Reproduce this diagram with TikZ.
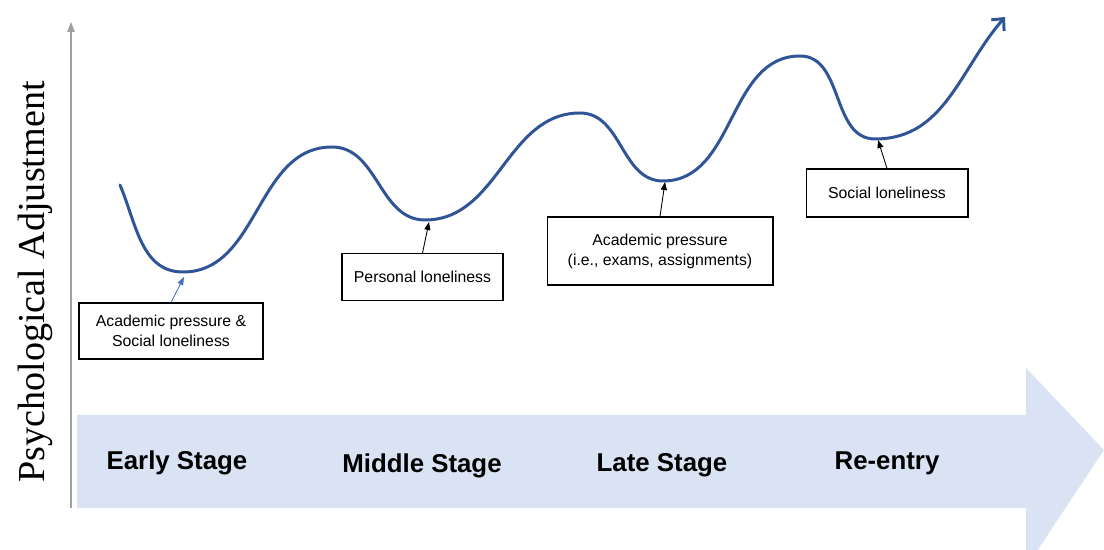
\documentclass[tikz,border=0pt]{standalone}
\usepackage{fontspec}
\setmainfont{Liberation Serif}
\setsansfont{Liberation Sans}
\usepackage{tikz}
\usetikzlibrary{arrows.meta}

\definecolor{wave}{RGB}{47,85,151}
\definecolor{band}{RGB}{218,227,243}
\definecolor{axisgray}{RGB}{160,160,160}
\definecolor{lightwave}{RGB}{68,114,196}

\tikzset{
  cause/.style={draw, line width=0.6pt, fill=white, align=center, inner sep=2pt,
    font=\sffamily\fontsize{9}{11.3}\selectfont},
  stage/.style={font=\sffamily\bfseries\fontsize{14.7}{17}\selectfont},
  pointer/.style={line width=0.5pt, -{Triangle[length=1.6mm,width=1.2mm]}},
}

\begin{document}
\begin{tikzpicture}[x=0.02cm, y=0.02cm]
      \useasboundingbox (0,0) rectangle (1104,550);

      % stages band
      \fill[band] (77,135) -- (1026,135) -- (1026,182) -- (1104,100) -- (1031,-10)
        -- (1026,-10) -- (1026,42) -- (77,42) -- cycle;
      \node[stage] (early) at (177,87) {Early Stage};
      \node[stage] (middle) at (422,84) {Middle Stage};
      \node[stage] (late) at (662,85) {Late Stage};
      \node[stage] (reentry) at (887,87) {Re-entry};

      % axis
      \coordinate (axisbottom) at (71,42);
      \coordinate (axistop) at (71,528);
      \draw[axisgray, line width=0.7pt, -{Triangle[length=2mm,width=1.5mm]}] (axisbottom) -- (axistop);
      \node[rotate=90, font=\fontsize{21.7}{24}\selectfont] (ylabel) at (35,268) {Psychological Adjustment};

      % adjustment curve
      \draw[wave, line width=1.7pt, line cap=round, -{Straight Barb[length=1.8mm,width=3.4mm]}]
        (120,365) to[out=-67,in=180] (183,278) to[out=0,in=180] (332,403)
        to[out=0,in=180] (425,330) to[out=0,in=180] (580,437)
        to[out=0,in=180] (663,369) to[out=0,in=180] (800,494)
        to[out=0,in=180] (875,411) to[out=0,in=229] (1005,533);

      \coordinate (dip1) at (184,273);
      \coordinate (dip2) at (429,328);
      \coordinate (dip3) at (665,368);
      \coordinate (dip4) at (878,410);

      % causes
      \node[cause, minimum width=3.68cm, minimum height=1.12cm] (early cause) at (171,219)
        {Academic pressure \&\\Social loneliness};
      \node[cause, minimum width=3.22cm, minimum height=0.94cm] (middle cause) at (422.5,273)
        {Personal loneliness};
      \node[cause, minimum width=4.52cm, minimum height=1.36cm] (late cause) at (660,299)
        {Academic pressure\\(i.e., exams, assignments)};
      \node[cause, minimum width=3.24cm, minimum height=0.96cm] (reentry cause) at (887,357)
        {Social loneliness};

      \draw[pointer, lightwave] (early cause.north) -- (dip1);
      \draw[pointer] (middle cause.north) -- (dip2);
      \draw[pointer] (late cause.north) -- (dip3);
      \draw[pointer] (reentry cause.north) -- (dip4);

    \end{tikzpicture}
\end{document}
